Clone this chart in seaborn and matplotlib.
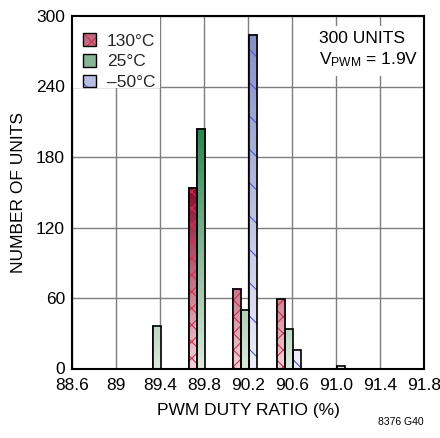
import numpy as np
import pandas as pd
import matplotlib
matplotlib.use("Agg")
import matplotlib.pyplot as plt
import seaborn as sns
from matplotlib.patches import Rectangle
from matplotlib.colors import LinearSegmentedColormap
from matplotlib.legend_handler import HandlerBase

# ---- data ----
temperatures = ["130°C", "25°C", "–50°C"]
bin_130 = [89.775, 90.175, 90.575]
cnt_130 = [154, 68, 59]
bin_25 = [89.375, 89.775, 90.175, 90.575]
cnt_25 = [36, 204, 50, 34]
bin_m50 = [90.175, 90.575, 90.975]
cnt_m50 = [284, 16, 2]
x_ticks = [88.6, 89.0, 89.4, 89.8, 90.2, 90.6, 91.0, 91.4, 91.8]
x_ticklabels = ["88.6", "89", "89.4", "89.8", "90.2", "90.6", "91.0", "91.4", "91.8"]
y_ticks = [0, 60, 120, 180, 240, 300]

sns.set_theme(style="white")
plt.rcParams["font.family"] = ["Liberation Sans Narrow", "Liberation Sans", "DejaVu Sans"]
plt.rcParams["mathtext.default"] = "regular"
plt.rcParams["hatch.linewidth"] = 0.8

df = pd.DataFrame({
    "ratio": bin_130 + bin_25 + bin_m50,
    "count": cnt_130 + cnt_25 + cnt_m50,
    "temp": [temperatures[0]] * len(bin_130) + [temperatures[1]] * len(bin_25)
            + [temperatures[2]] * len(bin_m50),
})

dark = {"130°C": (0.55, 0.03, 0.18), "25°C": (0.18, 0.52, 0.32), "–50°C": (0.53, 0.56, 0.78)}
light = {"130°C": (0.96, 0.82, 0.84), "25°C": (0.86, 0.91, 0.86), "–50°C": (0.93, 0.93, 0.98)}
mid = {k: tuple((np.array(dark[k]) + np.array(light[k])) / 2) for k in temperatures}
hatches = {"130°C": "xx", "25°C": "", "–50°C": "\\"}
hatch_col = {"130°C": (0.80, 0.20, 0.33), "25°C": None, "–50°C": (0.30, 0.35, 0.80)}
series_max = {"130°C": max(cnt_130), "25°C": max(cnt_25), "–50°C": max(cnt_m50)}

fig = plt.figure(figsize=(4.4, 4.38), dpi=100)
ax = fig.add_axes([72 / 440, 1 - 368.5 / 438, 352 / 440, 352.5 / 438])

sns.barplot(data=df, x="ratio", y="count", hue="temp", hue_order=temperatures,
            native_scale=True, width=0.55, palette=mid, edgecolor="black",
            linewidth=1.2, legend=False, ax=ax, zorder=3)

ax.set_xlim(88.6, 91.8)
ax.set_ylim(0, 300)

# colour gradients and hatches
patches = [p for p in ax.patches if isinstance(p, Rectangle)]
for p in patches:
    fc = p.get_facecolor()[:3]
    key = min(temperatures, key=lambda k: np.sum((np.array(mid[k]) - np.array(fc)) ** 2))
    x0, w, h = p.get_x(), p.get_width(), p.get_height()
    if h <= 0:
        continue
    cmap = LinearSegmentedColormap.from_list(key, [light[key], dark[key]])
    grad = np.linspace(0, h / series_max[key], 64)[:, None]
    ax.imshow(grad, extent=[x0, x0 + w, 0, h], origin="lower", aspect="auto",
              cmap=cmap, vmin=0, vmax=1, zorder=3.1, interpolation="bilinear")
    if hatches[key]:
        ax.add_patch(Rectangle((x0, 0), w, h, facecolor="none", edgecolor=hatch_col[key],
                               hatch=hatches[key], linewidth=0, zorder=3.2))
    ax.add_patch(Rectangle((x0, 0), w, h, facecolor="none", edgecolor="black",
                           linewidth=1.2, zorder=3.3))
    p.set_facecolor("none")

ax.set_xticks(x_ticks)
ax.set_xticklabels(x_ticklabels)
ax.set_yticks(y_ticks)
ax.tick_params(axis="both", labelsize=12.5, colors="black", direction="out",
               length=3, width=1)
ax.tick_params(axis="x", pad=4)
ax.tick_params(axis="y", pad=2)
ax.grid(True, color="#7f7f7f", linewidth=1.0, zorder=0)
ax.set_axisbelow(True)
for s in ax.spines.values():
    s.set_color("black")
    s.set_linewidth(1.5)
    s.set_zorder(5)

ax.set_xlabel("PWM DUTY RATIO (%)", fontsize=12.5, color="black", labelpad=7)
ax.set_ylabel("NUMBER OF UNITS", fontsize=12.5, color="black", labelpad=7)

# white background behind legend (covers grid lines as in the reference)
ax.add_patch(Rectangle((0.0, 0.795), 0.25, 0.205, transform=ax.transAxes,
                       facecolor="white", edgecolor="none", zorder=2))


class GradHandler(HandlerBase):
    def __init__(self, key):
        super().__init__()
        self.key = key

    def create_artists(self, legend, orig_handle, xdescent, ydescent, width, height,
                       fontsize, trans):
        k = self.key
        s = min(width, height) * 1.0
        xo = -xdescent + (width - s) / 2
        yo = -ydescent + (height - s) / 2
        arts = [Rectangle((xo, yo), s, s, facecolor=mid[k], edgecolor="none",
                          transform=trans)]
        if hatches[k]:
            arts.append(Rectangle((xo, yo), s, s, facecolor="none",
                                  edgecolor=hatch_col[k], hatch=hatches[k],
                                  linewidth=0, transform=trans))
        arts.append(Rectangle((xo, yo), s, s, facecolor="none", edgecolor="black",
                              linewidth=1.0, transform=trans))
        return arts


handles = [Rectangle((0, 0), 1, 1, label=t) for t in temperatures]
leg = ax.legend(handles=handles, labels=temperatures, loc="upper left",
                bbox_to_anchor=(0.005, 0.978), frameon=False, fontsize=12.5,
                handlelength=0.75, handleheight=0.75, handletextpad=0.6,
                labelspacing=0.3, borderpad=0.55, borderaxespad=0.0,
                handler_map={h: GradHandler(t) for h, t in zip(handles, temperatures)})
leg.set_zorder(4)

ax.text(0.703, 0.958, "300 UNITS\nV$_{PWM}$ = 1.9V", transform=ax.transAxes,
        ha="left", va="top", fontsize=12.5, color="black", linespacing=1.3,
        zorder=4, bbox=dict(boxstyle="square,pad=0.4", facecolor="white", edgecolor="none"))

fig.text(401 / 440, 1 - 422 / 438, "8376 G40", ha="center", va="center",
         fontsize=7.5, color="black")

fig.savefig("out.png", dpi=100)
